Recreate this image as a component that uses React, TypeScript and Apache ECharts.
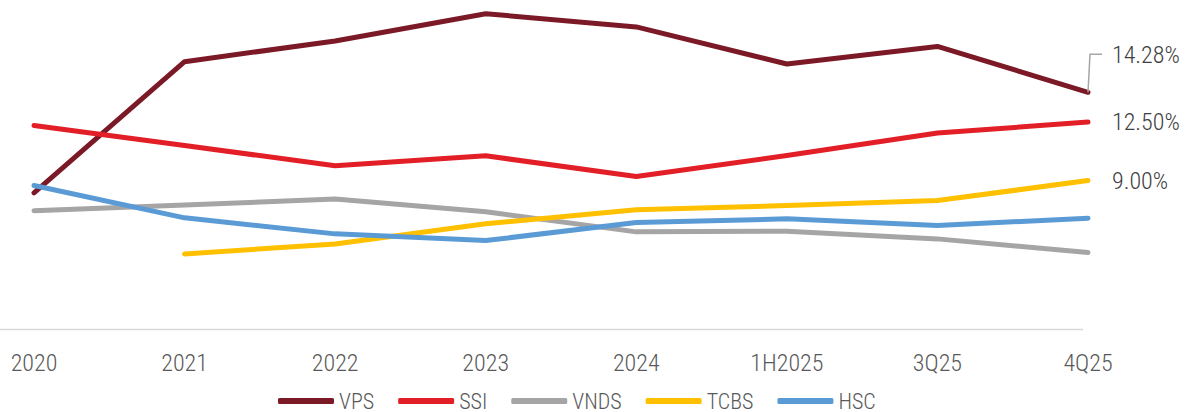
import React, { useEffect, useRef } from "react";
import * as echarts from "echarts";

const categories = ["2020", "2021", "2022", "2023", "2024", "1H2025", "3Q25", "4Q25"];
const vps = [8.26, 16.11, 17.35, 18.98, 18.19, 15.97, 17.02, 14.28];
const ssi = [12.29, 11.1, 9.88, 10.48, 9.24, 10.5, 11.84, 12.5];
const vnds = [7.2, 7.53, 7.9, 7.13, 5.93, 5.97, 5.51, 4.69];
const tcbs = [null, 4.61, 5.21, 6.41, 7.25, 7.5, 7.8, 9.0];
const hsc = [8.7, 6.77, 5.81, 5.41, 6.49, 6.71, 6.31, 6.75];

const FONT = '"Roboto Condensed", "Liberation Sans Narrow", Roboto, sans-serif';

export default function App() {
  const ref = useRef<HTMLDivElement>(null);
  useEffect(() => {
    document.body.style.margin = "0";
    const chart = echarts.init(ref.current!, null, { renderer: "svg" });
    const mk = (name: string, data: any[], color: string, label: boolean, offset: number[] = [0, 0]) => ({
      name,
      type: "line",
      data,
      symbol: "none",
      connectNulls: false,
      lineStyle: { width: 5, color, cap: "round", join: "round" },
      itemStyle: { color },
      endLabel: {
        show: label,
        formatter: (p: any) => Number(p.value).toFixed(2) + "%",
        distance: 24,
        offset,
        fontFamily: FONT,
        fontWeight: 300,
        fontSize: 24,
        color: "#404040",
      },
      z: 2,
    });
    chart.setOption({
      animation: false,
      grid: { left: 34, right: 98, top: 5, bottom: 81 },
      xAxis: {
        type: "category",
        data: categories,
        boundaryGap: false,
        axisLine: { show: false },
        axisTick: { show: false },
        axisLabel: { fontFamily: FONT, fontWeight: 300, fontSize: 24, color: "#595959", margin: 20 },
      },
      yAxis: { type: "value", min: 0, max: 19.5, show: false, splitLine: { show: false } },
      legend: {
        left: 278,
        top: 390,
        padding: 0,
        itemWidth: 56,
        itemHeight: 6,
        itemGap: 24,
        icon: "roundRect",
        textStyle: { fontFamily: FONT, fontWeight: 300, fontSize: 22, color: "#595959" },
        data: ["VPS", "SSI", "VNDS", "TCBS", "HSC"],
      },
      series: [
        mk("VPS", vps, "#7B1A26", true, [0, -37]),
        mk("SSI", ssi, "#E21F26", true),
        mk("VNDS", vnds, "#A5A5A5", false),
        mk("TCBS", tcbs, "#FFC000", true),
        mk("HSC", hsc, "#5B9BD5", false),
      ],
    });
    const last = categories.length - 1;
    const p = chart.convertToPixel({ seriesIndex: 0 }, [last, vps[last]]) as number[];
    const z = chart.convertToPixel({ seriesIndex: 0 }, [last, 0]) as number[];
    chart.setOption({
      graphic: [
        {
          type: "line",
          shape: { x1: 0, y1: z[1] - 1.5, x2: p[0] - 5, y2: z[1] - 1.5 },
          style: { stroke: "#D9D9D9", lineWidth: 1.5 },
          silent: true,
        },
        {
          type: "polyline",
          shape: { points: [[p[0], p[1]], [p[0] + 2, p[1] - 38], [p[0] + 14, p[1] - 38]] },
          style: { stroke: "#A6A6A6", lineWidth: 1.5, fill: null },
          silent: true,
          z: 10,
        },
      ],
    });
    return () => chart.dispose();
  }, []);
  return <div ref={ref} style={{ width: 1186, height: 412 }} />;
}
